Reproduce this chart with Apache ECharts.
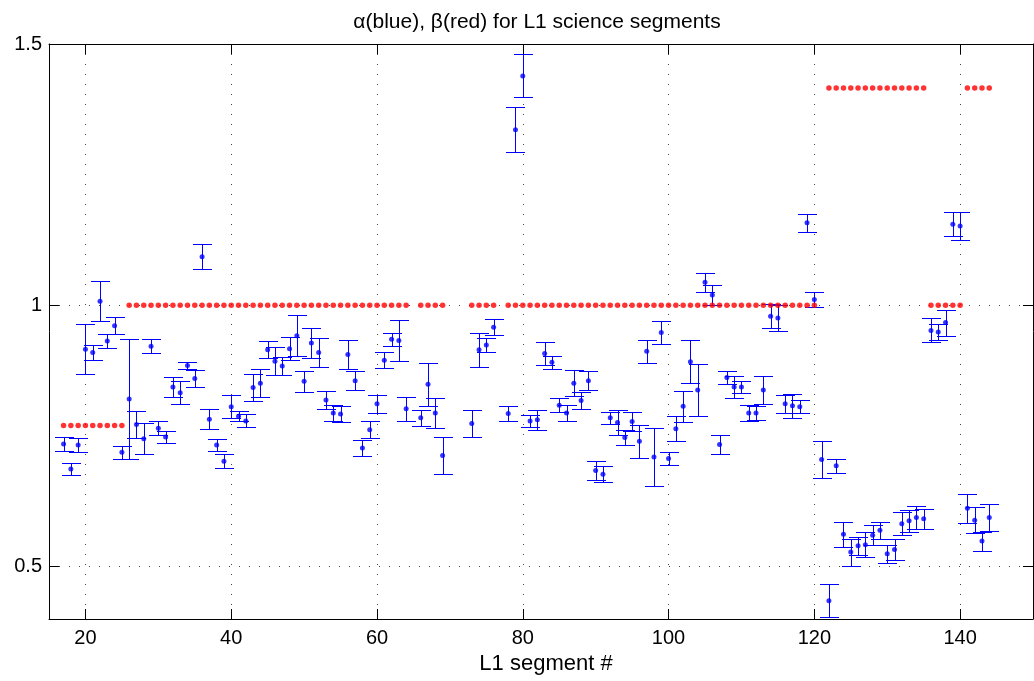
<!DOCTYPE html>
<html>
<head>
<meta charset="utf-8">
<script src="https://cdn.jsdelivr.net/npm/echarts@6/dist/echarts.min.js"></script>
<style>html,body{margin:0;padding:0;background:#fff;}#c{width:1034px;height:681px;}</style>
</head>
<body>
<div id="c"></div>
<script>
// ---- data ----
const alphaSeg = [17,18,19,20,21,22,23,24,25,26,27,28,29,30,31,32,33,34,35,36,37,38,39,40,41,42,43,44,45,46,47,48,49,50,51,52,53,54,55,56,57,58,59,60,61,62,63,64,
  66,67,68,69,
  73,74,75,76,
  78,79,80,81,82,83,84,85,86,87,88,89,90,91,92,93,94,95,96,97,98,99,100,101,102,103,104,105,106,107,108,109,110,111,112,113,114,115,116,117,118,119,120,121,122,123,124,125,126,127,128,129,130,131,132,133,134,135,136,137,138,139,140,141,142,143,144];
const alphaVal = [0.735,0.687,0.733,0.916,0.910,1.008,0.932,0.961,0.719,0.821,0.772,0.745,0.922,0.765,0.748,0.844,0.833,0.885,0.860,1.093,0.782,0.733,0.702,0.806,0.788,0.779,0.843,0.851,0.915,0.893,0.884,0.917,0.942,0.855,0.928,0.910,0.819,0.794,0.792,0.906,0.856,0.727,0.762,0.812,0.895,0.935,0.933,0.802,
  0.785,0.849,0.794,0.713,
  0.774,0.915,0.924,0.958,
  0.793,1.336,1.439,0.779,0.781,0.908,0.891,0.809,0.794,0.851,0.818,0.856,0.684,0.677,0.785,0.776,0.747,0.778,0.740,0.912,0.710,0.948,0.707,0.764,0.807,0.892,0.838,1.044,1.020,0.734,0.862,0.844,0.844,0.794,0.794,0.838,0.979,0.976,0.812,0.808,0.806,1.158,1.011,0.705,0.435,0.693,0.562,0.528,0.540,0.542,0.560,0.570,0.525,0.533,0.582,0.588,0.594,0.592,0.952,0.949,0.967,1.155,1.152,0.612,0.589,0.549,0.594];
const alphaErr = [0.014,0.011,0.014,0.048,0.014,0.038,0.013,0.016,0.012,0.115,0.026,0.030,0.013,0.013,0.011,0.019,0.022,0.007,0.017,0.024,0.019,0.011,0.013,0.022,0.010,0.0125,0.025,0.027,0.016,0.027,0.018,0.022,0.039,0.020,0.028,0.027,0.018,0.016,0.016,0.027,0.018,0.015,0.016,0.017,0.015,0.013,0.039,0.023,
  0.015,0.041,0.029,0.035,
  0.025,0.032,0.013,0.015,
  0.015,0.043,0.041,0.011,0.019,0.022,0.012,0.013,0.016,0.025,0.016,0.018,0.019,0.015,0.011,0.024,0.014,0.018,0.032,0.022,0.056,0.022,0.013,0.024,0.030,0.041,0.049,0.018,0.019,0.018,0.0125,0.021,0.012,0.015,0.014,0.026,0.023,0.025,0.017,0.023,0.0125,0.017,0.014,0.035,0.032,0.013,0.024,0.026,0.017,0.024,0.019,0.016,0.017,0.020,0.022,0.021,0.022,0.019,0.023,0.016,0.025,0.023,0.026,0.028,0.025,0.018,0.026];
const betaSeg = [17,18,19,20,21,22,23,24,25,
  26,27,28,29,30,31,32,33,34,35,36,37,38,39,40,41,42,43,44,45,46,47,48,49,50,51,52,53,54,55,56,57,58,59,60,61,62,63,64,
  66,67,68,69,
  73,74,75,76,
  78,79,80,81,82,83,84,85,86,87,88,89,90,91,92,93,94,95,96,97,98,99,100,101,102,103,104,105,106,107,108,109,110,111,112,113,114,115,116,117,118,119,120,
  122,123,124,125,126,127,128,129,130,131,132,133,134,135,
  136,137,138,139,140,
  141,142,143,144];
const betaVal = [0.77,0.77,0.77,0.77,0.77,0.77,0.77,0.77,0.77,
  1,1,1,1,1,1,1,1,1,1,1,1,1,1,1,1,1,1,1,1,1,1,1,1,1,1,1,1,1,1,1,1,1,1,1,1,1,1,1,
  1,1,1,1,
  1,1,1,1,
  1,1,1,1,1,1,1,1,1,1,1,1,1,1,1,1,1,1,1,1,1,1,1,1,1,1,1,1,1,1,1,1,1,1,1,1,1,1,1,1,1,1,1,
  1.416,1.416,1.416,1.416,1.416,1.416,1.416,1.416,1.416,1.416,1.416,1.416,1.416,1.416,
  1,1,1,1,1,
  1.416,1.416,1.416,1.416];
const xTicks = [20,40,60,80,100,120,140];
const yTicks = [0.5,1,1.5];
const titleText = 'α(blue), β(red) for L1 science segments';
const xName = 'L1 segment #';

// ---- build ----
const alphaData = alphaSeg.map((s,i)=>[s, alphaVal[i], alphaErr[i]]);
const betaData = betaSeg.map((s,i)=>[s, betaVal[i]]);
const FONT = 'Liberation Sans, Arial, sans-serif';
const BLUE = '#0000ff';
const gridLine = {show:true, lineStyle:{color:'#444', width:1, type:[1,9]}, showMinLine:false, showMaxLine:false};

function renderErr(params, api){
  const x = api.value(0), y = api.value(1), e = api.value(2);
  const t = api.coord([x, y+e]);
  const b = api.coord([x, y-e]);
  const cx = Math.round(t[0]);
  const ty = Math.round(t[1]);
  const by = Math.round(b[1]);
  const hw = 9;
  return {type:'group', children:[
    {type:'rect', shape:{x:cx, y:ty, width:1, height:by-ty+1}, style:{fill:BLUE, stroke:null}},
    {type:'rect', shape:{x:cx-hw, y:ty, width:2*hw+1, height:1}, style:{fill:BLUE, stroke:null}},
    {type:'rect', shape:{x:cx-hw, y:by, width:2*hw+1, height:1}, style:{fill:BLUE, stroke:null}}
  ]};
}

const chart = echarts.init(document.getElementById('c'), null, {renderer:'canvas'});
const axX = {min:15, max:150, splitNumber:7};
const axY = {min:0.4, max:1.5, splitNumber:2};
chart.setOption({
  animation:false,
  backgroundColor:'#fff',
  title:{text:titleText, left:532, textAlign:'center', top:7,
    textStyle:{fontFamily:FONT, fontSize:21, fontWeight:'normal', color:'#000'}},
  grid:{left:49, right:1, top:44, bottom:62, containLabel:false},
  xAxis:[
    Object.assign({type:'value', position:'bottom', name:xName, nameLocation:'middle', nameGap:32,
      nameTextStyle:{fontFamily:FONT, fontSize:22, color:'#000', padding:[0,0,0,10]},
      axisLine:{show:true, onZero:false, lineStyle:{color:'#000', width:1}},
      axisTick:{show:true, inside:true, length:10, lineStyle:{color:'#000'}},
      axisLabel:{show:true, margin:9, fontFamily:FONT, fontSize:20, color:'#000', showMinLabel:false, showMaxLabel:false},
      splitLine:gridLine}, axX),
    Object.assign({type:'value', position:'top',
      axisLine:{show:true, onZero:false, lineStyle:{color:'#000', width:1}},
      axisTick:{show:true, inside:true, length:10, lineStyle:{color:'#000'}},
      axisLabel:{show:false}, splitLine:{show:false}}, axX)
  ],
  yAxis:[
    Object.assign({type:'value', position:'left',
      axisLine:{show:true, onZero:false, lineStyle:{color:'#000', width:1}},
      axisTick:{show:true, inside:true, length:10, lineStyle:{color:'#000'}},
      axisLabel:{show:true, margin:7, fontFamily:FONT, fontSize:20, color:'#000', showMinLabel:false},
      splitLine:gridLine}, axY),
    Object.assign({type:'value', position:'right',
      axisLine:{show:true, onZero:false, lineStyle:{color:'#000', width:1}},
      axisTick:{show:true, inside:true, length:10, lineStyle:{color:'#000'}},
      axisLabel:{show:false}, splitLine:{show:false}}, axY)
  ],
  series:[
    {type:'custom', name:'alphaErr', xAxisIndex:0, yAxisIndex:0, renderItem:renderErr,
      data:alphaData, encode:{x:0, y:1}, z:2, silent:true, itemStyle:{color:BLUE}},
    {type:'scatter', name:'alpha', xAxisIndex:0, yAxisIndex:0,
      data:alphaData.map(d=>[d[0], d[1]]), symbol:'circle', symbolSize:5,
      itemStyle:{color:BLUE}, z:3, silent:true},
    {type:'scatter', name:'beta', xAxisIndex:0, yAxisIndex:0,
      data:betaData, symbol:'circle', symbolSize:5.5,
      itemStyle:{color:'#ff0000'}, z:4, silent:true}
  ]
});
</script>
</body>
</html>
